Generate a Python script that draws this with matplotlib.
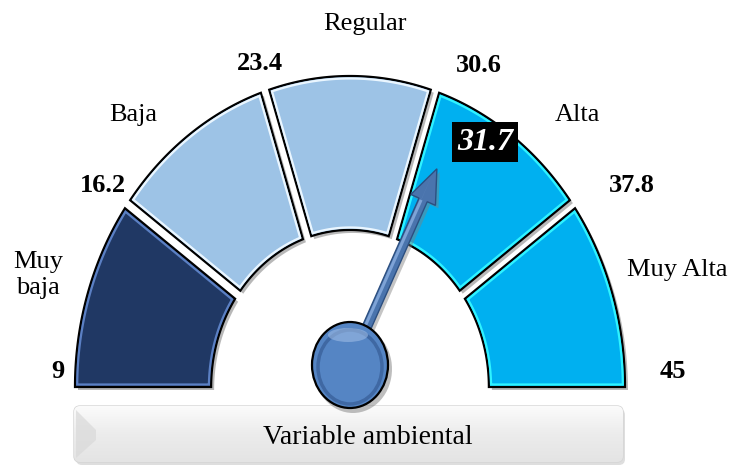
import numpy as np
import matplotlib
matplotlib.use("Agg")
import matplotlib.pyplot as plt
from matplotlib.patches import Polygon, Ellipse, FancyBboxPatch, FancyArrow

plt.rcParams['font.family'] = ['Liberation Serif', 'DejaVu Serif']

# ---- data ----
thresholds = [9, 16.2, 23.4, 30.6, 37.8, 45]
categories = ["Muy\nbaja", "Baja", "Regular", "Alta", "Muy Alta"]
seg_colors = ["#203864", "#9DC3E6", "#9DC3E6", "#00B0F0", "#00B0F0"]
bevel_colors = ["#5b80c4", "#eaf6ff", "#eaf6ff", "#2ff3ff", "#2ff3ff"]
value = 31.7
title = "Variable ambiental"

# ---- geometry (pixels) ----
W, H = 729, 468
cx, cy = 350, 387
rx, ry = 275, 311
r_in = 0.505
gap = 0.016  # half gap in normalized units

vmin, vmax = thresholds[0], thresholds[-1]


def ang(v):
    return np.pi * (1 - (v - vmin) / (vmax - vmin))


def to_px(u, v):
    return cx + rx * np.asarray(u), cy - ry * np.asarray(v)


def seg_poly(v0, v1, first, last, inset=0.0):
    a0, a1 = ang(v0), ang(v1)  # a0 > a1
    ro, ri = 1 - inset, r_in + inset
    h = gap + inset
    def lim(r):
        hi = a0 - (0 if first else np.arcsin(h / r)) - (inset / r if first else 0)
        lo = a1 + (0 if last else np.arcsin(h / r)) + (inset / r if last else 0)
        return hi, lo
    hi_o, lo_o = lim(ro)
    hi_i, lo_i = lim(ri)
    to = np.linspace(hi_o, lo_o, 80)
    ti = np.linspace(lo_i, hi_i, 80)
    u = np.concatenate([ro * np.cos(to), ri * np.cos(ti)])
    v = np.concatenate([ro * np.sin(to), ri * np.sin(ti)])
    x, y = to_px(u, v)
    return np.column_stack([x, y])


fig = plt.figure(figsize=(W / 100, H / 100), dpi=100)
ax = fig.add_axes([0, 0, 1, 1])
ax.set_xlim(0, W)
ax.set_ylim(H, 0)
ax.axis('off')

n = len(categories)
for i in range(n):
    v0, v1 = thresholds[i], thresholds[i + 1]
    pts = seg_poly(v0, v1, i == 0, i == n - 1)
    sh = pts + np.array([3, 3])
    ax.add_patch(Polygon(sh, closed=True, fc="#7f7f7f", ec="none", alpha=0.55, zorder=1))
    ax.add_patch(Polygon(pts, closed=True, fc=seg_colors[i], ec="black", lw=1.6, zorder=2))
    inner = seg_poly(v0, v1, i == 0, i == n - 1, inset=0.008)
    ax.add_patch(Polygon(inner, closed=True, fc="none", ec=bevel_colors[i], lw=1.6, zorder=3))

# ---- labels ----
lab_pos = [(38, 275), (133, 115), (365, 24), (577, 115), (677, 270)]
for (x, y), c in zip(lab_pos, categories):
    ax.text(x, y, c, ha='center', va='center', fontsize=19, linespacing=1.25, zorder=5)

num_pos = [(58, 372), (103, 185), (260, 63), (479, 66), (632, 185), (673, 372)]
for (x, y), t in zip(num_pos, thresholds):
    s = f"{t:g}"
    ax.text(x, y, s, ha='center', va='center', fontsize=19, fontweight='bold', zorder=5)

# ---- needle ----
hub_x, hub_y = 350, 365
th = ang(value)
tip_x, tip_y = to_px(0.765 * np.cos(th), 0.765 * np.sin(th))
tip_x += 3
dx, dy = tip_x - hub_x, tip_y - hub_y
ax.add_patch(FancyArrow(hub_x + 3, hub_y + 3, dx, dy, width=9, head_width=27, head_length=34,
                        length_includes_head=True, fc="#808080", ec="none", alpha=0.45, zorder=6))
ax.add_patch(FancyArrow(hub_x, hub_y, dx, dy, width=9, head_width=27, head_length=34,
                        length_includes_head=True, fc="#4a74ad", ec="#2c4f80", lw=1.0, zorder=7))
ax.add_patch(FancyArrow(hub_x - 2, hub_y, dx, dy, width=3, head_width=0.1, head_length=34,
                        length_includes_head=True, fc="#7ea3d6", ec="none", lw=0, zorder=7.5))

# hub
ax.add_patch(Ellipse((hub_x + 3, hub_y + 4), 78, 88, fc="#7f7f7f", ec="none", alpha=0.5, zorder=8))
ax.add_patch(Ellipse((hub_x, hub_y), 76, 86, fc="#5585c4", ec="black", lw=1.6, zorder=9))
ax.add_patch(Ellipse((hub_x, hub_y + 2), 64, 74, fc="none", ec="#3f68a3", lw=2.5, zorder=9.5))
ax.add_patch(Ellipse((hub_x - 2, hub_y - 30), 40, 14, fc="#9dbbe4", ec="none", alpha=0.6, zorder=9.6))

# value box
ax.text(485, 142, f"{value:g}", ha='center', va='center', fontsize=23,
        fontweight='bold', fontstyle='italic', color='white', zorder=12,
        bbox=dict(boxstyle='square,pad=0.16', fc='black', ec='none'))

# ---- title banner ----
ax.add_patch(FancyBboxPatch((76, 409), 549, 56, boxstyle='round,pad=0,rounding_size=6',
                            fc="#c8c8c8", ec="none", alpha=0.6, zorder=1))
banner = FancyBboxPatch((74, 406), 549, 56, boxstyle='round,pad=0,rounding_size=6',
                        fc="#ececec", ec="#d4d4d4", lw=1.0, zorder=2)
ax.add_patch(banner)
grad = np.linspace(0, 1, 100).reshape(-1, 1)
im = ax.imshow(grad, extent=(74, 623, 462, 406), cmap=matplotlib.colors.LinearSegmentedColormap.from_list(
    "g", ["#fbfbfb", "#ececec", "#e4e4e4"]), aspect='auto', zorder=2.5)
im.set_clip_path(banner)
ax.add_patch(Polygon([[76, 410], [96, 430], [96, 440], [76, 458]], closed=True,
                     fc="#d9d9d9", ec="none", alpha=0.7, zorder=3))
ax.text(368, 437, title, ha='center', va='center', fontsize=20, zorder=5)

ax.set_xlim(0, W)
ax.set_ylim(H, 0)
fig.savefig("out.png", dpi=100)
